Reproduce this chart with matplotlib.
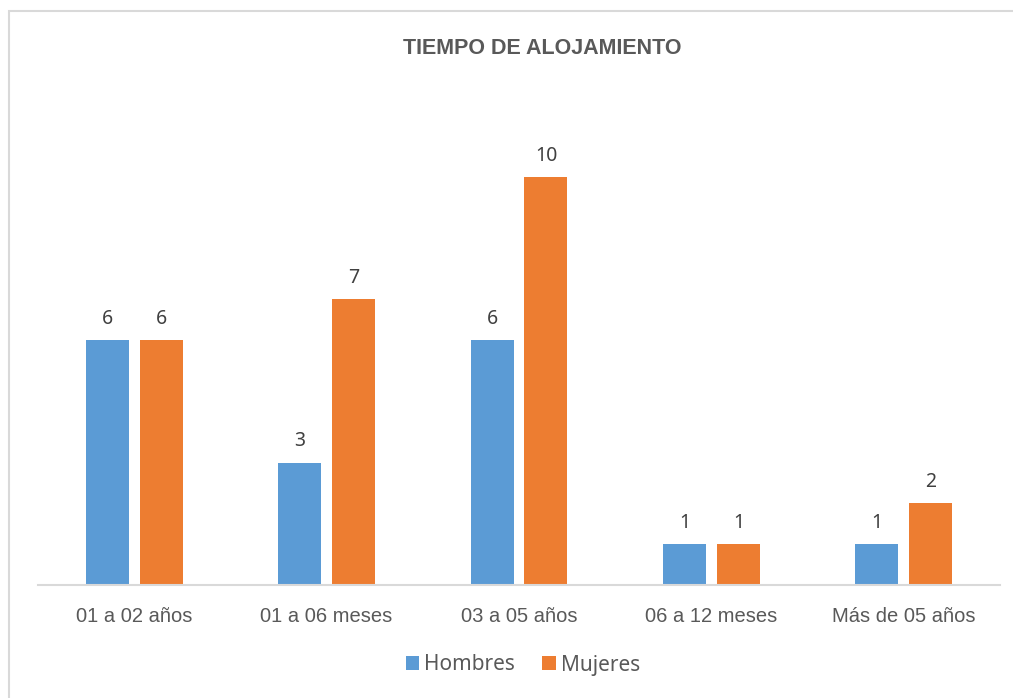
import matplotlib
matplotlib.use("Agg")
import matplotlib.pyplot as plt
import numpy as np
from matplotlib.patches import Rectangle

categories = ["01 a 02 años", "01 a 06 meses", "03 a 05 años", "06 a 12 meses", "Más de 05 años"]
hombres = [6, 3, 6, 1, 1]
mujeres = [6, 7, 10, 1, 2]

blue = "#5B9BD5"
orange = "#ED7D31"

W, H = 1013, 698
fig = plt.figure(figsize=(W / 100, H / 100), dpi=100)

# chart border (light gray, runs off right/bottom edge)
fig.patches.append(Rectangle((8.5 / W, -0.05), 1.1, 1 - 10.5 / H + 0.05,
                             transform=fig.transFigure, fill=False,
                             edgecolor="#D9D9D9", linewidth=1.5))

ax = fig.add_axes([38 / W, (H - 585) / H, 962 / W, 490 / H])
x = np.arange(len(categories))
bw = 0.2235
off = 0.1403
b1 = ax.bar(x - off, hombres, bw, color=blue, label="Hombres")
b2 = ax.bar(x + off, mujeres, bw, color=orange, label="Mujeres")

for bars, vals in [(b1, hombres), (b2, mujeres)]:
    for r, v in zip(bars, vals):
        ax.annotate(str(v), (r.get_x() + r.get_width() / 2, v), xytext=(0, 8),
                    textcoords="offset points", ha="center", va="bottom",
                    fontsize=14, color="#404040", family="Noto Sans")

ax.set_xlim(-0.5, len(categories) - 0.5)
ax.set_ylim(0, 12)
ax.set_yticks([])
ax.set_xticks(x)
ax.set_xticklabels(categories, fontsize=14.5, color="#595959",
                   family=["Liberation Sans Narrow", "Liberation Sans"])
ax.tick_params(axis="x", length=0, pad=16)
for s in ["top", "right", "left"]:
    ax.spines[s].set_visible(False)
ax.spines["bottom"].set_color("#D9D9D9")
ax.spines["bottom"].set_linewidth(1.5)

fig.text(542 / W, 1 - 48 / H, "TIEMPO DE ALOJAMIENTO", ha="center", va="center",
         fontsize=15.5, fontweight="bold", color="#595959", family="Liberation Sans")

leg = fig.legend(handles=[b1, b2], loc="center", bbox_to_anchor=(523 / W, 1 - 665 / H),
                 ncol=2, frameon=False, handlelength=0.65, handleheight=0.65,
                 handletextpad=0.25, columnspacing=1.3,
                 prop={"family": "Noto Sans", "size": 15})
for t in leg.get_texts():
    t.set_color("#595959")

fig.savefig("out.png", dpi=100)
